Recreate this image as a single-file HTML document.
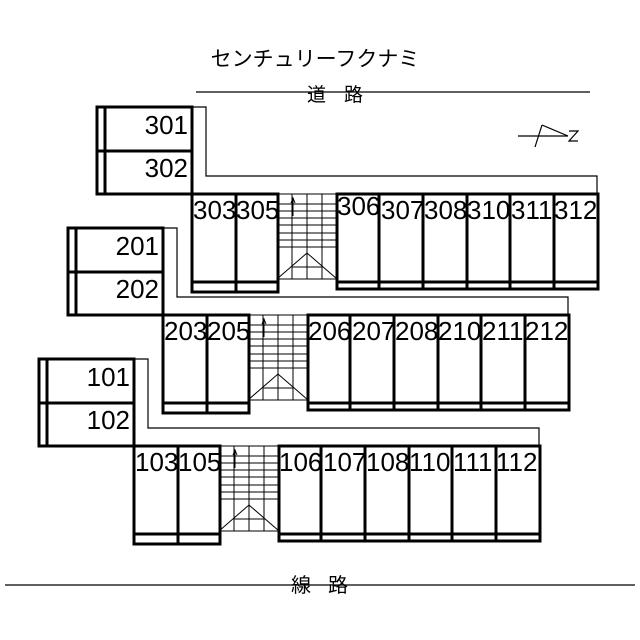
<!DOCTYPE html>
<html><head><meta charset="utf-8"><style>
html,body{margin:0;padding:0;background:#fff;}
svg{display:block;}
text{font-family:"Liberation Sans","Noto Sans CJK JP",sans-serif;fill:#000;}
.n{font-size:26px;}
.j{font-family:"Noto Sans CJK JP",sans-serif;}
</style></head><body>
<svg width="640" height="640" viewBox="0 0 640 640" xmlns="http://www.w3.org/2000/svg">
<rect width="640" height="640" fill="#fff"/>
<text x="315" y="66" font-size="21" text-anchor="middle" class="j">センチュリーフクナミ</text>
<line x1="196" y1="92" x2="590" y2="92" stroke="#000" stroke-width="1.3"/>
<text x="307" y="101" font-size="19" class="j">道</text>
<text x="344" y="101" font-size="19" class="j">路</text>
<line x1="5" y1="585" x2="635" y2="585" stroke="#000" stroke-width="1.3"/>
<text x="291" y="592" font-size="20" class="j">線</text>
<text x="328" y="592" font-size="20" class="j">路</text>
<!-- compass -->
<g stroke="#000" stroke-width="1.2" fill="none">
<line x1="518" y1="136" x2="568" y2="136"/>
<line x1="535" y1="147" x2="542" y2="125"/>
<line x1="542" y1="125" x2="568" y2="136"/>
<polyline points="569,131 578,131 569,141 578,141"/>
</g>
<defs>
<g id="fl">
 <polyline points="192,107 206,107 206,176 597,176 597,194" fill="none" stroke="#000" stroke-width="1.2"/>
 <g stroke="#000" stroke-width="1" fill="none">
  <line x1="277" y1="194" x2="337" y2="194"/>
  <line x1="292" y1="194" x2="292" y2="279"/>
  <line x1="307" y1="194" x2="307" y2="279"/>
  <line x1="322" y1="194" x2="322" y2="279"/>
  <line x1="277" y1="204" x2="337" y2="204"/>
  <line x1="277" y1="211" x2="337" y2="211"/>
  <line x1="277" y1="218" x2="337" y2="218"/>
  <line x1="277" y1="225" x2="337" y2="225"/>
  <line x1="277" y1="233" x2="337" y2="233"/>
  <line x1="277" y1="240" x2="337" y2="240"/>
  <line x1="277" y1="247" x2="337" y2="247"/>
  <line x1="292" y1="267" x2="322" y2="267"/>
  <line x1="277" y1="279" x2="337" y2="279"/>
  <polyline points="277,279 307,253 337,279"/>
  <line x1="293" y1="199" x2="293" y2="216"/>
  <polyline points="291,203 293,198 295,203"/>
 </g>
 <g stroke="#000" stroke-width="3" fill="none">
  <rect x="97" y="107" width="95" height="87"/>
  <line x1="105" y1="107" x2="105" y2="194"/>
  <line x1="97" y1="151" x2="192" y2="151"/>
  <rect x="192" y="194" width="86" height="98"/>
  <line x1="236" y1="194" x2="236" y2="292"/>
  <line x1="192" y1="282" x2="278" y2="282"/>
  <rect x="337" y="194" width="261" height="95"/>
  <line x1="379" y1="194" x2="379" y2="289"/>
  <line x1="423" y1="194" x2="423" y2="289"/>
  <line x1="467" y1="194" x2="467" y2="289"/>
  <line x1="510" y1="194" x2="510" y2="289"/>
  <line x1="554" y1="194" x2="554" y2="289"/>
  <line x1="337" y1="282" x2="598" y2="282"/>
 </g>
</g>
</defs>
<use href="#fl"/>
<use href="#fl" transform="translate(-29,121)"/>
<use href="#fl" transform="translate(-58,252)"/>
<g class="n">
<text x="188" y="134" text-anchor="end" class="n">301</text>
<text x="188" y="177" text-anchor="end" class="n">302</text>
<text x="193" y="219" class="n">303</text>
<text x="236" y="219" class="n">305</text>
<text x="337" y="215" class="n">306</text>
<text x="381" y="219" class="n">307</text>
<text x="424" y="219" class="n">308</text>
<text x="467" y="219" class="n">310</text>
<text x="511" y="219" class="n">311</text>
<text x="554" y="219" class="n">312</text>
<text x="159" y="255" text-anchor="end" class="n">201</text>
<text x="159" y="298" text-anchor="end" class="n">202</text>
<text x="164" y="340" class="n">203</text>
<text x="207" y="340" class="n">205</text>
<text x="308" y="340" class="n">206</text>
<text x="352" y="340" class="n">207</text>
<text x="395" y="340" class="n">208</text>
<text x="438" y="340" class="n">210</text>
<text x="482" y="340" class="n">211</text>
<text x="525" y="340" class="n">212</text>
<text x="130" y="386" text-anchor="end" class="n">101</text>
<text x="130" y="429" text-anchor="end" class="n">102</text>
<text x="135" y="471" class="n">103</text>
<text x="178" y="471" class="n">105</text>
<text x="279" y="471" class="n">106</text>
<text x="323" y="471" class="n">107</text>
<text x="366" y="471" class="n">108</text>
<text x="409" y="471" class="n">110</text>
<text x="453" y="471" class="n">111</text>
<text x="496" y="471" class="n">112</text>
</g>
</svg>
</body></html>
